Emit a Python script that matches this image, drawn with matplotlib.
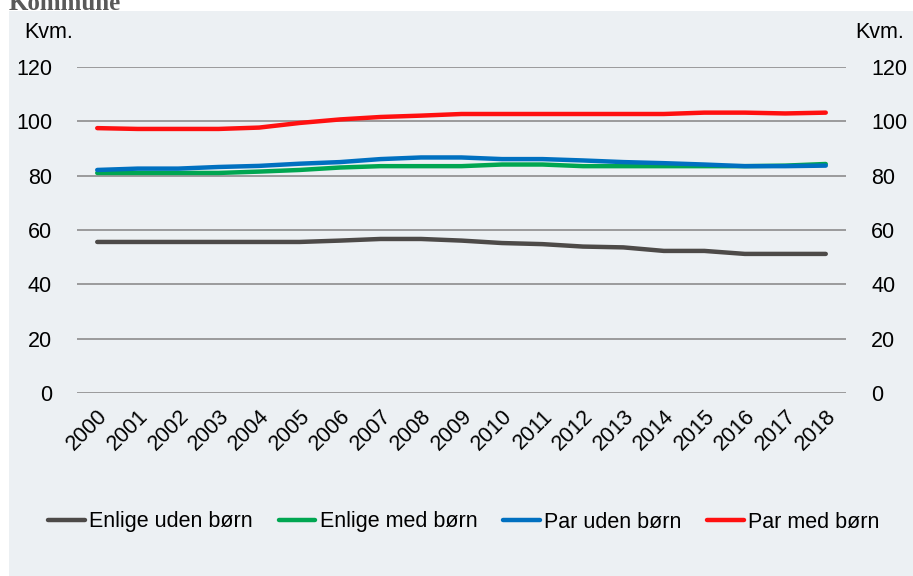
import matplotlib
matplotlib.use("Agg")
import matplotlib.pyplot as plt
from matplotlib.patches import Rectangle

plt.rcParams['font.family'] = ['Liberation Sans', 'DejaVu Sans']

years = [str(y) for y in range(2000, 2019)]
enlige_uden = [55.6, 55.6, 55.6, 55.6, 55.6, 55.6, 56.1, 56.7, 56.7, 56.1,
               55.2, 54.8, 53.9, 53.6, 52.3, 52.3, 51.2, 51.2, 51.2]
enlige_med = [81.0, 81.0, 81.0, 81.0, 81.5, 82.1, 83.0, 83.5, 83.5, 83.5,
              84.1, 84.1, 83.5, 83.5, 83.5, 83.5, 83.5, 83.7, 84.3]
par_uden = [82.1, 82.6, 82.6, 83.2, 83.6, 84.4, 85.0, 86.1, 86.7, 86.7,
            86.1, 86.1, 85.6, 85.0, 84.6, 84.1, 83.5, 83.5, 83.7]
par_med = [97.5, 97.2, 97.2, 97.2, 97.7, 99.4, 100.7, 101.6, 102.1, 102.7,
           102.7, 102.7, 102.7, 102.7, 102.7, 103.2, 103.2, 102.9, 103.2]

labels = ['Enlige uden børn', 'Enlige med børn', 'Par uden børn', 'Par med børn']
colors = ['#4D4A48', '#00A651', '#0070C0', '#FF1010']
bg = '#ECF0F3'
fs = 15.5

fig = plt.figure(figsize=(9.13, 5.76), dpi=100)
fig.patch.set_facecolor('white')
fig.patches.append(Rectangle((9 / 913, 0), 1, (576 - 11) / 576,
                             transform=fig.transFigure, facecolor=bg,
                             edgecolor='none', zorder=-5))
# titel er skaaret af i toppen
fig.text(9 / 913, 1 - 3 / 576, 'Kommune', family='Liberation Serif',
         fontweight='bold', fontsize=18, color='#595959', va='center')

ax = fig.add_axes([77 / 913, 183 / 576, 769 / 913, 326 / 576])
ax.set_facecolor('none')
x = range(len(years))
for vals, lab, c in zip([enlige_uden, enlige_med, par_uden, par_med], labels, colors):
    ax.plot(x, vals, color=c, lw=3.2, label=lab, solid_capstyle='round', zorder=3)

ax.set_xlim(-0.5, len(years) - 0.5)
ax.set_ylim(0, 120)
ax.set_yticks(range(0, 121, 20))
ax.yaxis.grid(True, color='#8C8C8C', lw=1.2)
ax.set_axisbelow(True)
for s in ax.spines.values():
    s.set_visible(False)
ax.tick_params(axis='y', length=0, labelsize=fs, pad=18, labelright=True)
ax.tick_params(axis='x', length=0, labelsize=fs, pad=9)
ax.set_xticks(list(x))
ax.set_xticklabels(years, rotation=45, ha='right', rotation_mode='anchor')

fig.text(24 / 913, 1 - 33 / 576, 'Kvm.', fontsize=fs, va='center', ha='left')
fig.text(855 / 913, 1 - 33 / 576, 'Kvm.', fontsize=fs, va='center', ha='left')

fig.legend(loc='center', bbox_to_anchor=(0.508, 1 - 522 / 576), ncol=4,
           frameon=False, fontsize=fs, handlelength=1.7, handletextpad=0.2,
           columnspacing=1.2)

fig.savefig('out.png', dpi=100)
